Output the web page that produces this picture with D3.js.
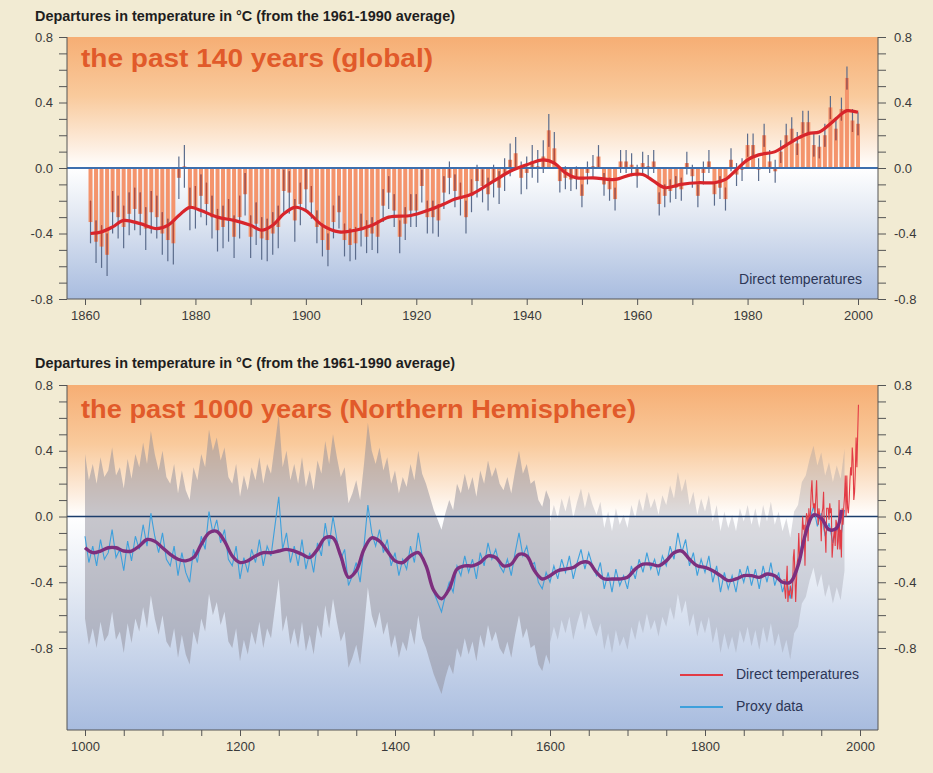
<!DOCTYPE html>
<html>
<head>
<meta charset="utf-8">
<script src="https://cdn.jsdelivr.net/npm/d3@7/dist/d3.min.js"></script>
<style>
body { margin:0; background:#f2ebd3; }
svg { display:block; font-family:"Liberation Sans", Arial, sans-serif; }
</style>
</head>
<body>
<script>
/* ---- top panel: global annual anomalies 1861-2000 ---- */
var globalYears = d3.range(1861, 2001);
var globalTemps = [
 -0.33,-0.45,-0.48,-0.53,-0.27,-0.30,-0.36,-0.28,-0.25,-0.28,
 -0.37,-0.27,-0.30,-0.40,-0.44,-0.46,-0.06, 0.01,-0.25,-0.24,
 -0.17,-0.22,-0.30,-0.38,-0.36,-0.32,-0.42,-0.30,-0.16,-0.42,
 -0.34,-0.43,-0.44,-0.40,-0.36,-0.14,-0.15,-0.32,-0.22,-0.13,
 -0.21,-0.36,-0.44,-0.50,-0.33,-0.27,-0.44,-0.47,-0.46,-0.38,
 -0.42,-0.40,-0.42,-0.23,-0.15,-0.26,-0.42,-0.34,-0.26,-0.26,
 -0.11,-0.30,-0.30,-0.32,-0.15,-0.06,-0.14,-0.19,-0.30,-0.17,
 -0.08,-0.11,-0.16,-0.08,-0.12,-0.04, 0.05, 0.09,-0.06,-0.03,
  0.04, 0.01, 0.07, 0.23, 0.12,-0.08,-0.06,-0.07,-0.06,-0.17,
 -0.03, 0.01, 0.07,-0.10,-0.13,-0.19, 0.04, 0.04, 0.02,-0.05,
  0.03, 0.01, 0.04,-0.22,-0.17,-0.14,-0.12,-0.13, 0.03,-0.05,
 -0.17,-0.03, 0.04,-0.16,-0.12,-0.19, 0.05,-0.04,-0.01, 0.14,
  0.14,-0.01, 0.20, 0.04,-0.02, 0.10, 0.20, 0.24, 0.15, 0.28,
  0.28, 0.14, 0.13, 0.20, 0.37, 0.24, 0.36, 0.55, 0.29, 0.27
];
// half width of the uncertainty bars by period [from, to, halfWidth]
var globalErr = [[1861,1900,0.13],[1901,1945,0.10],[1946,2000,0.07]];
// smoothed curve [year, value]
var globalSmooth = [
 [1861,-0.40],[1863,-0.39],[1865,-0.36],[1867,-0.32],[1870,-0.34],[1873,-0.37],[1875,-0.35],
 [1877,-0.29],[1879,-0.24],[1881,-0.26],[1884,-0.30],[1887,-0.32],[1890,-0.35],[1892,-0.38],
 [1894,-0.35],[1896,-0.28],[1898,-0.24],[1900,-0.26],[1903,-0.35],[1906,-0.39],[1909,-0.38],
 [1912,-0.35],[1915,-0.30],[1919,-0.29],[1922,-0.26],[1925,-0.22],[1927,-0.19],[1930,-0.16],
 [1934,-0.08],[1937,-0.02],[1940,0.02],[1943,0.05],[1945,0.03],[1947,-0.03],[1949,-0.06],
 [1952,-0.06],[1956,-0.07],[1959,-0.04],[1961,-0.04],[1963,-0.08],[1965,-0.12],[1968,-0.10],
 [1971,-0.09],[1974,-0.09],[1976,-0.07],[1978,-0.01],[1980,0.05],[1982,0.08],[1985,0.10],
 [1987,0.14],[1989,0.18],[1991,0.21],[1993,0.22],[1995,0.27],[1997,0.33],[1998,0.35],[2000,0.34]
];

/* ---- bottom panel: northern hemisphere 1000-2000 ---- */
var proxyYears = d3.range(1000, 1981, 5);
var proxyTemps = [
 -0.12,-0.28,-0.18,-0.30,-0.14,-0.26,-0.22,-0.08,-0.25,-0.20,
 -0.33,-0.15,-0.27,-0.12,-0.20,-0.05,-0.18, 0.02,-0.12,-0.22,
 -0.10,-0.26,-0.30,-0.18,-0.36,-0.22,-0.34,-0.40,-0.20,-0.28,
 -0.12,-0.20, 0.03,-0.10,-0.02,-0.16,-0.08,-0.26,-0.30,-0.18,
 -0.38,-0.25,-0.34,-0.20,-0.28,-0.14,-0.30,-0.18,-0.24,-0.06,
  0.12,-0.20,-0.10,-0.28,-0.18,-0.30,-0.14,-0.32,-0.22,-0.34,
 -0.16,-0.24,-0.04,-0.18, 0.00,-0.14,-0.26,-0.20,-0.42,-0.36,
 -0.28,-0.40,-0.18, 0.07,-0.10,-0.18,-0.08,-0.22,-0.14,-0.30,
 -0.22,-0.36,-0.26,-0.32,-0.18,-0.28,-0.10,-0.24,-0.30,-0.38,
 -0.46,-0.52,-0.58,-0.48,-0.40,-0.46,-0.30,-0.36,-0.24,-0.34,
 -0.26,-0.38,-0.22,-0.30,-0.16,-0.26,-0.20,-0.30,-0.34,-0.26,
 -0.36,-0.22,-0.10,-0.24,-0.18,-0.30,-0.28,-0.40,-0.44,-0.34,
 -0.40,-0.30,-0.38,-0.26,-0.34,-0.24,-0.38,-0.28,-0.20,-0.32,
 -0.22,-0.30,-0.36,-0.28,-0.44,-0.34,-0.46,-0.32,-0.42,-0.36,
 -0.44,-0.30,-0.38,-0.26,-0.34,-0.22,-0.32,-0.26,-0.36,-0.24,
 -0.30,-0.18,-0.26,-0.10,-0.22,-0.14,-0.30,-0.22,-0.36,-0.26,
 -0.34,-0.24,-0.40,-0.30,-0.46,-0.34,-0.44,-0.36,-0.46,-0.32,
 -0.40,-0.30,-0.42,-0.32,-0.44,-0.30,-0.40,-0.28,-0.42,-0.34,
 -0.46,-0.38,-0.50,-0.34,-0.30,-0.16,-0.12,-0.02, 0.06,-0.06,
  0.02,-0.12,-0.04,-0.16,-0.06,-0.14, 0.04
];
// two sigma band half width by period [from, to, halfWidth]
var proxyErr = [[1000,1600,0.50],[1600,1980,0.37]];
var proxySmooth = [
 [1000,-0.19],[1010,-0.22],[1020,-0.21],[1030,-0.19],[1040,-0.19],[1050,-0.21],[1060,-0.21],
 [1070,-0.18],[1080,-0.14],[1090,-0.15],[1100,-0.19],[1110,-0.23],[1120,-0.26],[1130,-0.27],
 [1140,-0.25],[1150,-0.17],[1160,-0.10],[1170,-0.09],[1180,-0.15],[1190,-0.24],[1200,-0.28],
 [1210,-0.27],[1220,-0.24],[1230,-0.22],[1240,-0.22],[1250,-0.21],[1260,-0.20],[1270,-0.21],
 [1280,-0.23],[1290,-0.25],[1300,-0.20],[1310,-0.13],[1320,-0.13],[1330,-0.24],[1340,-0.37],
 [1350,-0.33],[1360,-0.20],[1370,-0.13],[1380,-0.15],[1390,-0.21],[1400,-0.27],[1410,-0.28],
 [1420,-0.24],[1430,-0.22],[1440,-0.30],[1450,-0.45],[1460,-0.50],[1470,-0.44],[1480,-0.32],
 [1490,-0.30],[1500,-0.30],[1510,-0.28],[1520,-0.24],[1530,-0.25],[1540,-0.30],[1550,-0.29],
 [1560,-0.23],[1570,-0.24],[1580,-0.33],[1590,-0.38],[1600,-0.36],[1610,-0.33],[1620,-0.32],
 [1630,-0.31],[1640,-0.28],[1650,-0.28],[1660,-0.34],[1670,-0.38],[1680,-0.38],[1690,-0.38],
 [1700,-0.37],[1710,-0.32],[1720,-0.29],[1730,-0.29],[1740,-0.30],[1750,-0.27],[1760,-0.22],
 [1770,-0.21],[1780,-0.26],[1790,-0.30],[1800,-0.31],[1810,-0.33],[1820,-0.36],[1830,-0.39],
 [1840,-0.38],[1850,-0.36],[1860,-0.36],[1870,-0.37],[1880,-0.35],[1890,-0.36],[1900,-0.40],
 [1910,-0.40],[1920,-0.30],[1930,-0.10],[1940,0.01],[1950,-0.01],[1960,-0.08],[1970,-0.07],[1976,0.04]
];
var nhYears = d3.range(1902, 1999);
var nhTemps = [
 -0.38,-0.45,-0.50,-0.40,-0.30,-0.52,-0.45,-0.48,-0.42,-0.45,
 -0.50,-0.45,-0.25,-0.20,-0.35,-0.52,-0.40,-0.28,-0.25,-0.10,
 -0.25,-0.22,-0.25,-0.12, 0.00,-0.08,-0.05,-0.30,-0.05, 0.02,
  0.00,-0.15, 0.05,-0.05, 0.02, 0.15, 0.22, 0.10, 0.05, 0.08,
  0.02, 0.12, 0.22, 0.05,-0.05, 0.05, 0.00,-0.02,-0.15, 0.02,
  0.05, 0.15,-0.08,-0.10,-0.22, 0.05, 0.05, 0.05,-0.02, 0.08,
  0.02, 0.05,-0.25,-0.18,-0.12,-0.08,-0.18,-0.02,-0.05,-0.20,
 -0.15, 0.10,-0.20,-0.08,-0.25, 0.05,-0.05, 0.05, 0.12, 0.25,
  0.00, 0.25, 0.05, 0.02, 0.10, 0.22, 0.30, 0.25, 0.42, 0.35,
  0.10, 0.15, 0.28, 0.48, 0.30, 0.50, 0.68
];

var yTickVals = d3.range(-8, 9).map(function(d) { return d / 10; });
var yLabelVals = [-0.8, -0.4, 0, 0.4, 0.8];
var yLabelText = ["-0.8", "-0.4", "0.0", "0.4", "0.8"];
var heading = "Departures in temperature in \u00B0C (from the 1961-1990 average)";

var svg = d3.select("body").append("svg").attr("width", 933).attr("height", 773);
var defs = svg.append("defs");

function makeGrad(id, w) {
 var g = defs.append("linearGradient").attr("id", id)
  .attr("x1", 0).attr("y1", 0).attr("x2", 0).attr("y2", 1);
 var st = [[0, "#f6ae74"], [w * 0.45, "#f9ca9c"], [w * 0.85, "#fdefe2"], [w, "#ffffff"],
           [w + (1 - w) * 0.35, "#e3e9f3"], [1, "#a8bcdf"]];
 st.forEach(function(s) { g.append("stop").attr("offset", s[0]).attr("stop-color", s[1]); });
}
makeGrad("gradTop", 0.5);
makeGrad("gradBot", 0.38);

function yFmt(d) {
 for (var i = 0; i < yLabelVals.length; i++) {
  if (Math.abs(d - yLabelVals[i]) < 1e-6) return yLabelText[i];
 }
 return "";
}

function frame(left, right, top, bottom, grad) {
 svg.append("rect").attr("x", left).attr("y", top).attr("width", right - left)
  .attr("height", bottom - top).attr("fill", "url(#" + grad + ")");
}

function axes(x, y, left, right, top, bottom, xTicks, xLabelEvery) {
 var ax = svg.append("g").attr("transform", "translate(" + left + ",0)")
  .call(d3.axisLeft(y).tickValues(yTickVals).tickSize(8).tickPadding(6).tickFormat(yFmt));
 var ax2 = svg.append("g").attr("transform", "translate(" + right + ",0)")
  .call(d3.axisRight(y).tickValues(yTickVals).tickSize(8).tickPadding(8).tickFormat(yFmt));
 var ax3 = svg.append("g").attr("transform", "translate(0," + bottom + ")")
  .call(d3.axisBottom(x).tickValues(xTicks).tickSize(6).tickPadding(6)
   .tickFormat(function(d) { return d % xLabelEvery == 0 ? d : ""; }));
 [ax, ax2, ax3].forEach(function(a) {
  a.select(".domain").remove();
  a.selectAll("line").attr("stroke", "#555");
  a.selectAll("text").attr("fill", "#3a3a3a").style("font-size", "13px")
   .style("font-family", "'Liberation Sans', Arial, sans-serif");
 });
 svg.append("path").attr("d", "M" + left + "," + top + "V" + bottom + "H" + right + "V" + top)
  .attr("fill", "none").attr("stroke", "#555").attr("stroke-width", 1);
}

function errFor(table, yr) {
 for (var i = 0; i < table.length; i++) {
  if (yr >= table[i][0] && yr <= table[i][1]) return table[i][2];
 }
 return 0;
}

/* ================= top panel ================= */
var L = 67, R = 878;
var x1 = d3.scaleLinear().domain([1860, 2000]).range([85, 858]);
var y1 = d3.scaleLinear().domain([-0.8, 0.8]).range([299, 37]);

svg.append("text").attr("x", 35).attr("y", 21).text(heading)
 .attr("font-weight", "bold").attr("font-size", 14).attr("fill", "#1e1e1e")
 .attr("textLength", 420).attr("lengthAdjust", "spacingAndGlyphs");

frame(L, R, 37, 299, "gradTop");

svg.append("text").attr("x", 81).attr("y", 67).text("the past 140 years (global)")
 .attr("font-weight", "bold").attr("font-size", 26).attr("fill", "#e15a2a")
 .attr("textLength", 352).attr("lengthAdjust", "spacingAndGlyphs");

var gb = svg.append("g");
gb.selectAll("rect").data(globalTemps).enter().append("rect")
 .attr("x", function(d, i) { return x1(globalYears[i]) - 2; })
 .attr("width", 4)
 .attr("y", function(d) { return d > 0 ? y1(d) : y1(0); })
 .attr("height", function(d) { return Math.abs(y1(d) - y1(0)); })
 .attr("fill", "#f4946c");

// error bars: slate outside the bar, dark red inside
gb.selectAll("line.err").data(globalTemps).enter().append("line").attr("class", "err")
 .attr("x1", function(d, i) { return x1(globalYears[i]); })
 .attr("x2", function(d, i) { return x1(globalYears[i]); })
 .attr("y1", function(d, i) { return y1(d - errFor(globalErr, globalYears[i])); })
 .attr("y2", function(d, i) { return y1(d + errFor(globalErr, globalYears[i])); })
 .attr("stroke", "#5b6c8c").attr("stroke-width", 1.2);
gb.selectAll("line.inn").data(globalTemps).enter().append("line").attr("class", "inn")
 .attr("x1", function(d, i) { return x1(globalYears[i]); })
 .attr("x2", function(d, i) { return x1(globalYears[i]); })
 .attr("y1", function(d) { return y1(d); })
 .attr("y2", function(d, i) {
  var e = errFor(globalErr, globalYears[i]);
  return d < 0 ? y1(Math.min(d + e, 0)) : y1(Math.max(d - e, 0));
 })
 .attr("stroke", "#bb4a3a").attr("stroke-width", 1.2);

svg.append("line").attr("x1", L).attr("x2", R).attr("y1", y1(0)).attr("y2", y1(0))
 .attr("stroke", "#3d6fae").attr("stroke-width", 1.8);

svg.append("path").datum(globalSmooth)
 .attr("d", d3.line().x(function(d) { return x1(d[0]); }).y(function(d) { return y1(d[1]); })
  .curve(d3.curveCatmullRom))
 .attr("fill", "none").attr("stroke", "#d8252b").attr("stroke-width", 3.2);

svg.append("text").attr("x", 862).attr("y", 284).attr("text-anchor", "end")
 .text("Direct temperatures").attr("font-size", 14).attr("fill", "#2c3656");

axes(x1, y1, L, R, 37, 299, d3.range(1860, 2001, 10), 20);

/* ================= bottom panel ================= */
var x2 = d3.scaleLinear().domain([1000, 2000]).range([85, 860]);
var y2 = d3.scaleLinear().domain([-0.8, 0.8]).range([648, 385]);

svg.append("text").attr("x", 35).attr("y", 368).text(heading)
 .attr("font-weight", "bold").attr("font-size", 14).attr("fill", "#1e1e1e")
 .attr("textLength", 420).attr("lengthAdjust", "spacingAndGlyphs");

frame(L, R, 385, 730, "gradBot");

svg.append("text").attr("x", 81).attr("y", 418).text("the past 1000 years (Northern Hemisphere)")
 .attr("font-weight", "bold").attr("font-size", 26).attr("fill", "#e15a2a")
 .attr("textLength", 555).attr("lengthAdjust", "spacingAndGlyphs");

var proxyPts = proxyTemps.map(function(d, i) { return [proxyYears[i], d]; });
var band = d3.area()
 .x(function(d) { return x2(d[0]); })
 .y0(function(d) { return y2(d[1] - d[2]); })
 .y1(function(d) { return y2(d[1] + d[2]); });
proxyErr.forEach(function(p, k) {
 var seg = proxyPts.filter(function(d) { return d[0] >= p[0] && d[0] <= p[1]; })
  .map(function(d) { return [d[0], d[1], p[2]]; });
 svg.append("path").datum(seg).attr("d", band)
  .attr("fill", "#8f8e9a").attr("fill-opacity", k == 0 ? 0.5 : 0.3);
});

svg.append("line").attr("x1", L).attr("x2", R).attr("y1", y2(0)).attr("y2", y2(0))
 .attr("stroke", "#1d3e6c").attr("stroke-width", 1.6);

var ln2 = d3.line().x(function(d) { return x2(d[0]); }).y(function(d) { return y2(d[1]); });
svg.append("path").datum(proxyPts).attr("d", ln2)
 .attr("fill", "none").attr("stroke", "#3ea0dc").attr("stroke-width", 1.1);
svg.append("path").datum(nhTemps.map(function(d, i) { return [nhYears[i], d]; })).attr("d", ln2)
 .attr("fill", "none").attr("stroke", "#e23b45").attr("stroke-width", 1.1);
svg.append("path").datum(proxySmooth).attr("d", ln2.curve(d3.curveCatmullRom))
 .attr("fill", "none").attr("stroke", "#7d2f7e").attr("stroke-width", 3.4);

// legend
svg.append("line").attr("x1", 680).attr("x2", 723).attr("y1", 675).attr("y2", 675)
 .attr("stroke", "#e23b45").attr("stroke-width", 2);
svg.append("text").attr("x", 736).attr("y", 679).text("Direct temperatures")
 .attr("font-size", 14).attr("fill", "#2c3656");
svg.append("line").attr("x1", 680).attr("x2", 723).attr("y1", 707).attr("y2", 707)
 .attr("stroke", "#3ea0dc").attr("stroke-width", 2);
svg.append("text").attr("x", 736).attr("y", 711).text("Proxy data")
 .attr("font-size", 14).attr("fill", "#2c3656");

axes(x2, y2, L, R, 385, 730, d3.range(1000, 2001, 50), 200);
</script>
</body>
</html>
